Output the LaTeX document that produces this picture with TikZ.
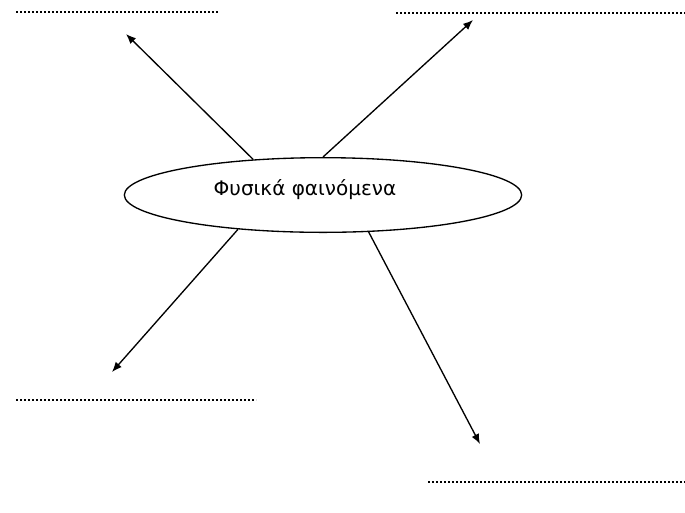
\documentclass[tikz,border=0pt]{standalone}
\usepackage{fontspec}
\setmainfont{DejaVu Sans}
\usetikzlibrary{shapes.geometric,arrows.meta}

\begin{document}
\begin{tikzpicture}[x=0.75pt,y=-0.75pt,>={Latex[length=7.5pt,width=6pt]},line width=1pt]
\useasboundingbox (0,0) rectangle (685,512);
\tikzset{blank/.style={line width=1.3pt,dash pattern=on 1.2pt off 1.8pt}}
\node[name=phen, draw, ellipse, minimum width=298pt, minimum height=56pt] at (323,195) {};
\node[name=phen_text, anchor=base, font=\fontsize{15}{17}\selectfont] at (305,195) {Φυσικά φαινόμενα};
\coordinate (tip_1) at (126,34);
\coordinate (tip_2) at (473,20);
\coordinate (tip_3) at (112,372);
\coordinate (tip_4) at (480,444);
\coordinate (blank_1_l) at (16,12);
\coordinate (blank_1_r) at (218,12);
\coordinate (blank_2_l) at (396,13);
\coordinate (blank_2_r) at (685,13);
\coordinate (blank_3_l) at (16,400);
\coordinate (blank_3_r) at (256,400);
\coordinate (blank_4_l) at (428,482);
\coordinate (blank_4_r) at (685,482);

\draw(phen.153) edge[->](tip_1);
\draw(phen.90) edge[->](tip_2);
\draw(phen.202) edge[->](tip_3);
\draw(phen.321) edge[->](tip_4);

\draw[blank](blank_1_l) -- (blank_1_r);
\draw[blank](blank_2_l) -- (blank_2_r);
\draw[blank](blank_3_l) -- (blank_3_r);
\draw[blank](blank_4_l) -- (blank_4_r);
\end{tikzpicture}
\end{document}
